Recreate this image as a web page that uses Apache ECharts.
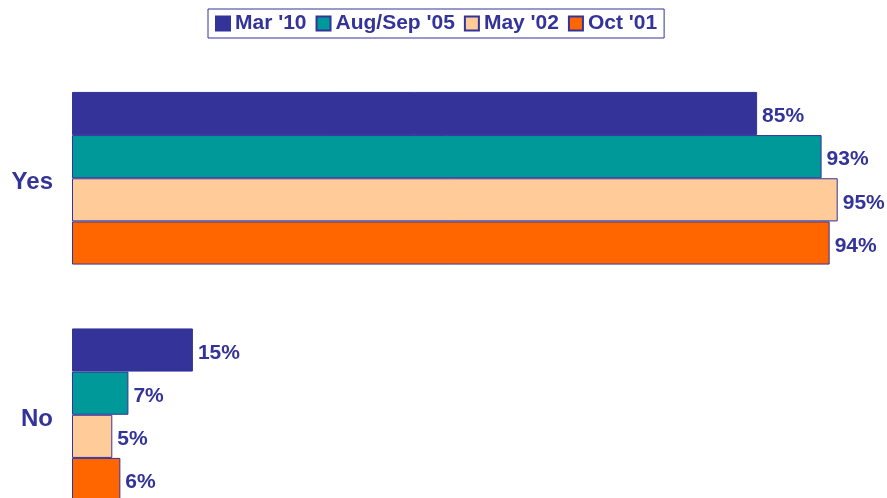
<!DOCTYPE html>
<html>
<head>
<meta charset="utf-8">
<script src="https://cdn.jsdelivr.net/npm/echarts@6/dist/echarts.min.js"></script>
<style>
  html, body { margin: 0; padding: 0; background: #fff; }
  #main { width: 887px; height: 498px; }
</style>
</head>
<body>
<div id="main"></div>
<script>
  var textColor = "#333399";
  var categories = ['Yes', 'No'];
  var seriesNames = ["Mar '10", "Aug/Sep '05", "May '02", "Oct '01"];
  var mar10 = [85, 15];
  var augSep05 = [93, 7];
  var may02 = [95, 5];
  var oct01 = [94, 6];
  var colors = ['#333399', '#009999', '#FFCC99', '#FF6600'];

  var values = [mar10, augSep05, may02, oct01];

  var myChart = echarts.init(document.getElementById('main'));
  var series = seriesNames.map(function (name, i) {
    return {
      name: name,
      type: 'bar',
      data: values[i],
      barGap: 0,
      barCategoryGap: '27%',
      itemStyle: {
        color: colors[i],
        borderColor: '#333399',
        borderWidth: 1
      },
      label: {
        show: true,
        position: 'right',
        distance: 5,
        offset: [0, 3],
        formatter: '{c}%',
        color: textColor,
        fontSize: 21,
        fontWeight: 'bold',
        fontFamily: 'Liberation Sans'
      }
    };
  });

  var option = {
    animation: false,
    legend: {
      data: seriesNames,
      top: 9,
      left: 208,
      padding: [4, 7],
      itemGap: 9,
      itemWidth: 14,
      itemHeight: 14,
      borderColor: '#333399',
      borderWidth: 1,
      borderRadius: 0,
      icon: 'rect',
      textStyle: {
        color: textColor,
        fontSize: 21,
        fontWeight: 'bold',
        fontFamily: 'Liberation Sans'
      }
    },
    grid: {
      left: 72,
      top: 60,
      width: 806,
      height: 473,
      containLabel: false,
      outerBoundsMode: 'none'
    },
    xAxis: {
      type: 'value',
      min: 0,
      max: 100,
      show: false
    },
    yAxis: {
      type: 'category',
      data: categories,
      inverse: true,
      axisTick: { show: false },
      axisLine: { show: false },
      axisLabel: {
        margin: 19,
        formatter: '{a|{value}}',
        rich: {
          a: {
            color: textColor,
            fontSize: 24,
            fontWeight: 'bold',
            fontFamily: 'Liberation Sans',
            padding: [9, 0, 0, 0]
          }
        }
      }
    },
    series: series
  };
  myChart.setOption(option);
</script>
</body>
</html>
